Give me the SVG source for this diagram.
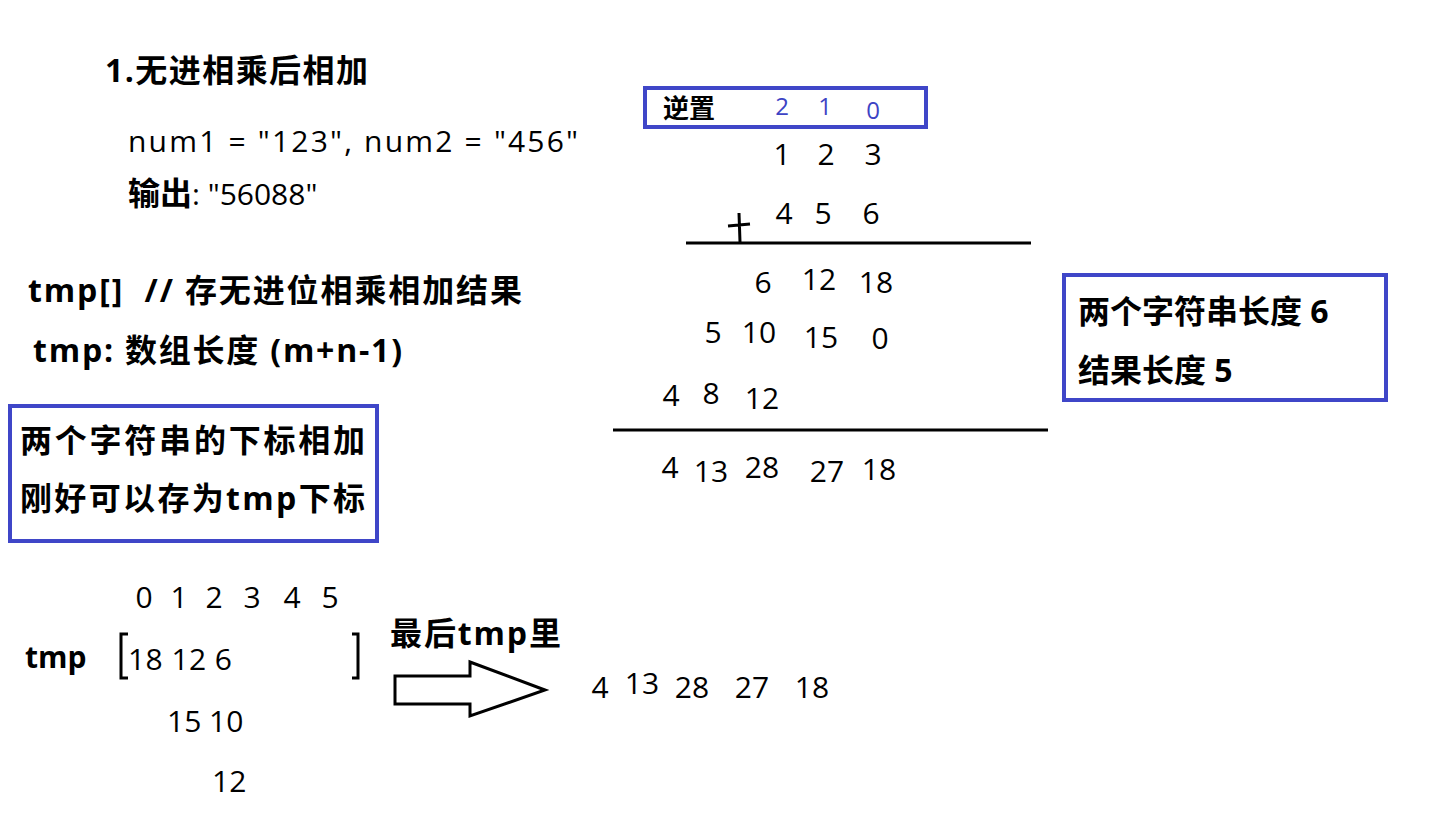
<svg xmlns="http://www.w3.org/2000/svg" width="1442" height="839" viewBox="0 0 1442 839">
<style>
text{font-family:"Open Sans","Noto Sans CJK SC",sans-serif;font-size:30px;fill:#000}
.b{font-weight:bold}
.z{font-size:32px}
.c{text-anchor:middle}
.blue{fill:#3d43c4;font-size:24px}
.box{fill:none;stroke:#3f46c8;stroke-width:4}
.ln{stroke:#000;stroke-width:3;fill:none}
</style>
<rect width="1442" height="839" fill="#fff"/>
<g id="title"><text x="105" y="82" class="b z" textLength="263">1.无进相乘后相加</text></g>
<g id="example">
<text x="128" y="152" textLength="450">num1 = "123", num2 = "456"</text>
<text x="128" y="205"><tspan class="b z">输出</tspan>: "56088"</text>
</g>
<g id="tmpdesc">
<text x="28" y="302" class="b z" textLength="494" xml:space="preserve">tmp[]  // 存无进位相乘相加结果</text>
<text x="33" y="362" class="b z" textLength="369">tmp: 数组长度 (m+n-1)</text>
</g>
<g id="note1">
<rect x="10" y="406" width="367" height="135" class="box"/>
<text x="20" y="452" class="b z" textLength="345">两个字符串的下标相加</text>
<text x="20" y="510" class="b z" textLength="345">刚好可以存为tmp下标</text>
</g>
<g id="tmparray">
<text x="144" y="608" class="c">0</text><text x="179" y="608" class="c">1</text><text x="214" y="608" class="c">2</text><text x="252" y="608" class="c">3</text><text x="292" y="608" class="c">4</text><text x="330" y="608" class="c">5</text>
<text x="25" y="668" class="b">tmp</text>
<path d="M128 634 H121 V678 H128 M352 634 H358 V678 H352" class="ln"/>
<text x="128" y="670" textLength="104">18 12 6</text>
<text x="167" y="732">15 10</text>
<text x="212" y="792">12</text>
</g>
<g id="final">
<text x="390" y="645" class="b z" textLength="171">最后tmp里</text>
<text x="600" y="698" class="c">4</text><text x="642" y="694" class="c">13</text><text x="692" y="698" class="c">28</text><text x="752" y="698" class="c">27</text><text x="812" y="698" class="c">18</text>
</g>
<g id="connectors">
<polygon points="395,676 470,676 470,662 545,690 470,716 470,704 395,704" fill="#fff" stroke="#000" stroke-width="3"/>
</g>
<g id="mult">
<rect x="645" y="88" width="281" height="39" class="box"/>
<text x="663" y="118" class="b" style="font-size:26px">逆置</text>
<text x="782" y="115" class="c blue">2</text><text x="825" y="115" class="c blue">1</text><text x="873" y="119" class="c blue">0</text>
<text x="782" y="165" class="c">1</text><text x="826" y="165" class="c">2</text><text x="873" y="165" class="c">3</text>
<path d="M728 226 L750 224 M739 213 L740 242" class="ln" stroke-width="2"/>
<text x="784" y="224" class="c">4</text><text x="823" y="224" class="c">5</text><text x="871" y="224" class="c">6</text>
<line x1="686" y1="243" x2="1031" y2="243" class="ln"/>
<text x="763" y="293" class="c">6</text><text x="819" y="290" class="c">12</text><text x="876" y="293" class="c">18</text>
<text x="713" y="343" class="c">5</text><text x="759" y="343" class="c">10</text><text x="821" y="348" class="c">15</text><text x="880" y="349" class="c">0</text>
<text x="671" y="406" class="c">4</text><text x="711" y="404" class="c">8</text><text x="762" y="409" class="c">12</text>
<line x1="613" y1="430" x2="1048" y2="430" class="ln"/>
<text x="670" y="478" class="c">4</text><text x="711" y="482" class="c">13</text><text x="762" y="478" class="c">28</text><text x="827" y="482" class="c">27</text><text x="879" y="480" class="c">18</text>
</g>
<g id="note2">
<rect x="1064" y="275" width="322" height="125" class="box"/>
<text x="1078" y="323" class="b z">两个字符串长度 6</text>
<text x="1078" y="382" class="b z">结果长度 5</text>
</g>
</svg>
